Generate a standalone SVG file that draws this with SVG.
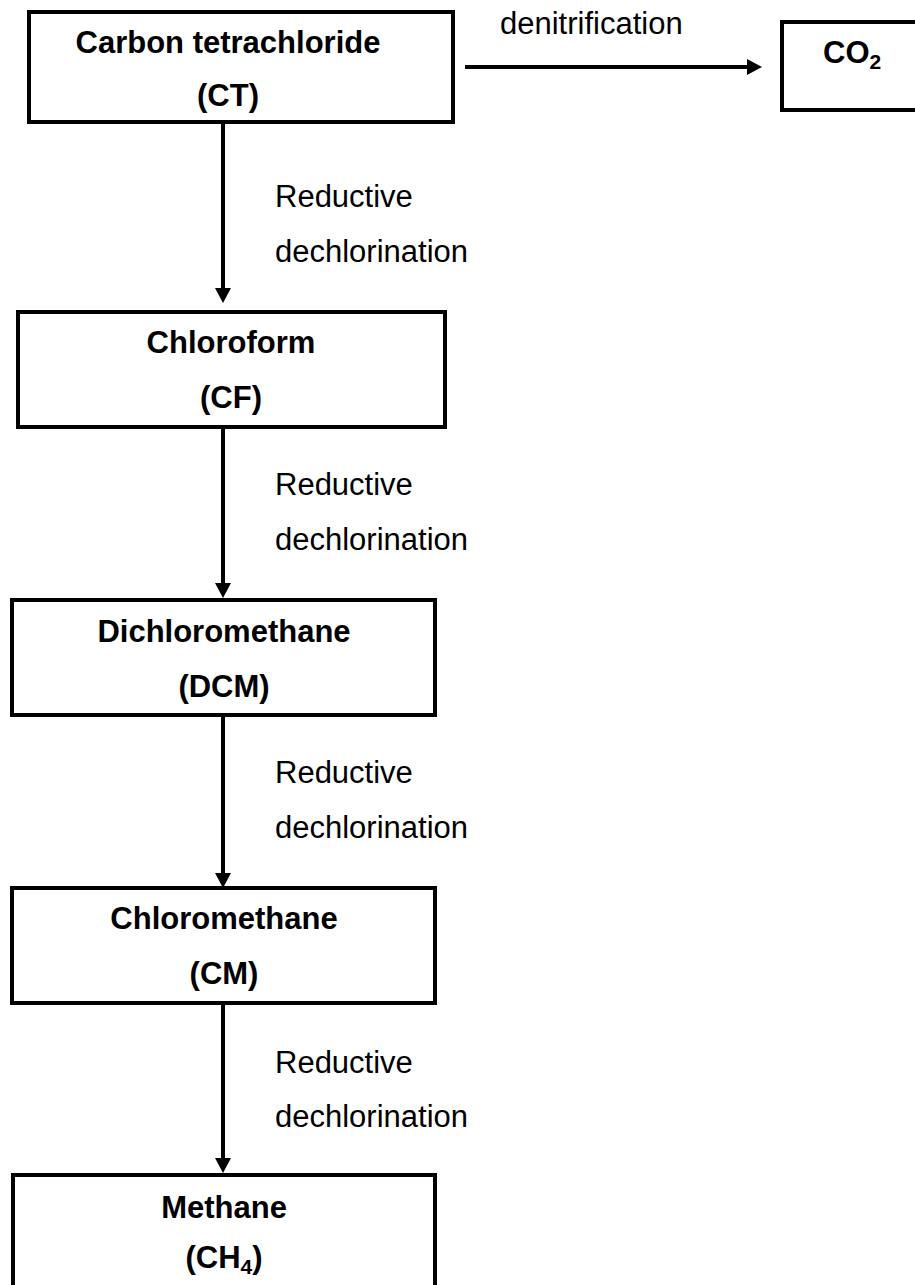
<svg xmlns="http://www.w3.org/2000/svg" width="915" height="1285" viewBox="0 0 915 1285">
<style>
.box{fill:#fff;stroke:#000;stroke-width:4}
.name{font-family:"Liberation Sans",Arial,sans-serif;font-weight:bold;font-size:31px;text-anchor:middle;fill:#000}
.lbl{font-family:"Liberation Sans",Arial,sans-serif;font-size:31px;fill:#000}
.sub{font-size:21px}
.conn{stroke:#000;stroke-width:4;fill:none;marker-end:url(#ah)}
</style>
<defs>
<marker id="ah" viewBox="0 0 15 16" refX="5" refY="8" markerWidth="15" markerHeight="16" markerUnits="userSpaceOnUse" orient="auto">
<path d="M0,0 L15,8 L0,16 z" fill="#000"/>
</marker>
</defs>
<g id="connectors">
<line class="conn" x1="223" y1="122" x2="223" y2="293"/>
<line class="conn" x1="223" y1="427" x2="223" y2="588"/>
<line class="conn" x1="223" y1="715" x2="223" y2="878"/>
<line class="conn" x1="223" y1="1003" x2="223" y2="1163"/>
<line class="conn" x1="465" y1="67" x2="752" y2="67"/>
<text class="lbl" x="500" y="34">denitrification</text>
<text class="lbl" x="275" y="207">Reductive</text>
<text class="lbl" x="275" y="262">dechlorination</text>
<text class="lbl" x="275" y="495">Reductive</text>
<text class="lbl" x="275" y="550">dechlorination</text>
<text class="lbl" x="275" y="783">Reductive</text>
<text class="lbl" x="275" y="838">dechlorination</text>
<text class="lbl" x="275" y="1073">Reductive</text>
<text class="lbl" x="275" y="1127">dechlorination</text>
</g>
<g id="ct">
<rect class="box" x="29" y="12" width="424" height="110"/>
<text class="name" x="228" y="53">Carbon tetrachloride</text>
<text class="name" x="228" y="106">(CT)</text>
</g>
<g id="co2">
<rect class="box" x="782" y="22" width="160" height="88"/>
<text class="name" x="823" y="63" style="text-anchor:start">CO<tspan class="sub" dy="6">2</tspan></text>
</g>
<g id="cf">
<rect class="box" x="18" y="312" width="427" height="115"/>
<text class="name" x="231" y="353">Chloroform</text>
<text class="name" x="231" y="408">(CF)</text>
</g>
<g id="dcm">
<rect class="box" x="12" y="600" width="423" height="115"/>
<text class="name" x="224" y="642">Dichloromethane</text>
<text class="name" x="224" y="697">(DCM)</text>
</g>
<g id="cm">
<rect class="box" x="12" y="888" width="423" height="115"/>
<text class="name" x="224" y="929">Chloromethane</text>
<text class="name" x="224" y="984">(CM)</text>
</g>
<g id="methane">
<rect class="box" x="13" y="1175" width="422" height="130"/>
<text class="name" x="224" y="1218">Methane</text>
<text class="name" x="224" y="1268">(CH<tspan class="sub" dy="6">4</tspan><tspan dy="-6">)</tspan></text>
</g>
</svg>
